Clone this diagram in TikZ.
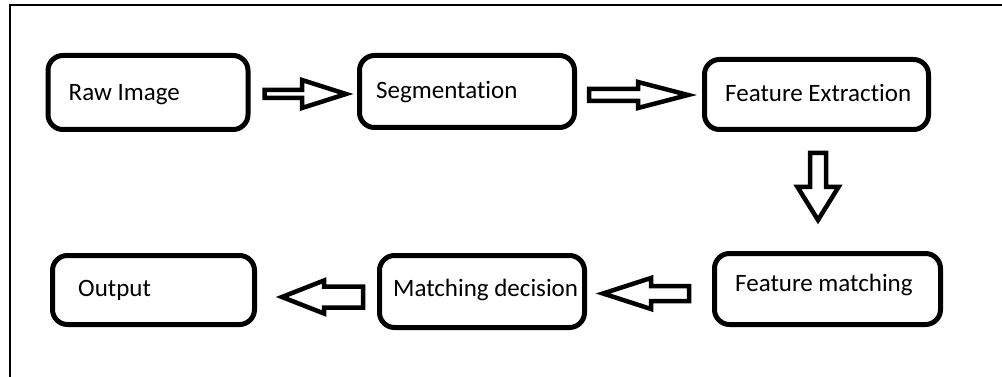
\documentclass[tikz,border=0pt]{standalone}
\usepackage{fontspec}
\setmainfont{Carlito}[Ligatures={NoCommon}]
\usetikzlibrary{calc}
\tikzset{
  box/.style={draw, line width=5pt, rounded corners=15pt, inner sep=0pt},
  lbl/.style={anchor=west, inner sep=0pt, font=\fontsize{25}{29}\selectfont},
  blk/.style={draw, line width=4.5pt, fill=white},
  harrow/.style n args={3}{to path={let \p1=(\tikztostart), \p2=(\tikztotarget) in
    ({\x1},{\y1+#1}) -- ({\x2+(#3)},{\y1+#1}) -- ({\x2+(#3)},{\y1+#2}) -- ({\x2},{\y1})
    -- ({\x2+(#3)},{\y1-#2}) -- ({\x2+(#3)},{\y1-#1}) -- ({\x1},{\y1-#1}) -- cycle}},
  varrow/.style n args={3}{to path={let \p1=(\tikztostart), \p2=(\tikztotarget) in
    ({\x1+#1},{\y1}) -- ({\x1+#1},{\y2+(#3)}) -- ({\x1+#2},{\y2+(#3)}) -- ({\x1},{\y2})
    -- ({\x1-#2},{\y2+(#3)}) -- ({\x1-#1},{\y2+(#3)}) -- ({\x1-#1},{\y1}) -- cycle}},
}
\begin{document}
\begin{tikzpicture}[x=1pt,y=-1pt]
\useasboundingbox (0,0) rectangle (1002,377);
\coordinate (fa) at (10,377);
\coordinate (fb) at (10,5.5);
\coordinate (fc) at (1002,5.5);
\draw[line width=2pt] (fa) -- (fb) -- (fc);

\node[box, minimum width=200pt, minimum height=74pt] (raw) at (148,92.5) {};
\node[box, minimum width=215pt, minimum height=72pt] (seg) at (467,91.5) {};
\node[box, minimum width=224pt, minimum height=70pt] (fe) at (816.5,94.5) {};
\node[box, minimum width=226pt, minimum height=71pt] (fm) at (827.5,289) {};
\node[box, minimum width=205pt, minimum height=72pt] (md) at (482,291.5) {};
\node[box, minimum width=202pt, minimum height=69pt] (out) at (153.5,290) {};

\node[lbl] (rawt) at ($(raw.west)+(23,2.5)$) {Raw Image};
\node[lbl] (segt) at ($(seg.west)+(19,0.5)$) {Segmentation};
\node[lbl] (fet) at ($(fe.west)+(23,-1.5)$) {Feature Extraction};
\node[lbl] (fmt) at ($(fm.west)+(23,-4)$) {Feature matching};
\node[lbl] (mdt) at ($(md.west)+(16,-1.5)$) {Matching decision};
\node[lbl] (outt) at ($(out.west)+(28,0)$) {Output};

\coordinate (a1s) at ($(raw.east)+(14,1.5)$);
\coordinate (a1e) at ($(seg.west)+(-11,1.5)$);
\coordinate (a2s) at ($(seg.east)+(12,3.5)$);
\coordinate (a2e) at ($(fe.west)+(-14,0.5)$);
\coordinate (a3s) at ($(fe.south)+(1.5,21)$);
\coordinate (a3e) at ($(fm.north)+(-9.5,-31)$);
\coordinate (a4s) at ($(fm.west)+(-23,4.5)$);
\coordinate (a4e) at ($(md.east)+(16,2)$);
\coordinate (a5s) at ($(md.west)+(-14,5.5)$);
\coordinate (a5e) at ($(out.east)+(25,7)$);

\draw[blk] (a1s) to[harrow={4pt}{14pt}{-44pt}] (a1e);
\draw[blk] (a2s) to[harrow={6pt}{13pt}{-50pt}] (a2e);
\draw[blk] (a3s) to[varrow={8pt}{20.5pt}{33pt}] (a3e);
\draw[blk] (a4s) to[harrow={7.5pt}{15.5pt}{48pt}] (a4e);
\draw[blk] (a5s) to[harrow={10.5pt}{16.5pt}{42pt}] (a5e);
\end{tikzpicture}
\end{document}
